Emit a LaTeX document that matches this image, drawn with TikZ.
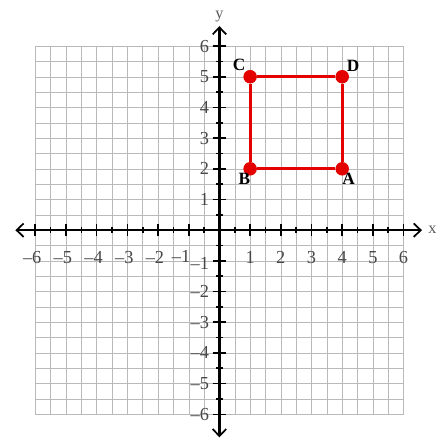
\documentclass[tikz,border=0pt]{standalone}
\usepackage{fontspec}
\setmainfont{Liberation Serif}
\usetikzlibrary{arrows.meta, positioning}
\tikzstyle{gridline} = [draw=black!27, line width=0.4pt]
\tikzstyle{axis} = [line width=2pt, {Straight Barb[length=2.3mm, width=4.4mm, line width=1.6pt]}-{Straight Barb[length=2.3mm, width=4.4mm, line width=1.6pt]}]
\tikzstyle{tick} = [line width=1.5pt]
\tikzstyle{num} = [text=black!72, font=\fontsize{17}{19}\selectfont, inner sep=1pt]
\tikzstyle{vertex} = [circle, fill=red!90!black, inner sep=0pt, minimum size=0.44cm]
\tikzstyle{side} = [draw=red!90!black, line width=3pt]
\tikzstyle{ptlabel} = [font=\fontsize{16}{18}\selectfont\bfseries, inner sep=1pt]

\begin{document}
\begin{tikzpicture}
    \useasboundingbox (-7.15,-6.85) rectangle (7.35,7.5);
    % grid
    \foreach \g in {-6,-5.5,...,6} {
        \draw [gridline] (\g,-6) -- (\g,6);
        \draw [gridline] (-6,\g) -- (6,\g);
    }
    % axes
    \coordinate (xleft) at (-6.65,0);
    \coordinate (xright) at (6.6,0);
    \coordinate (ybottom) at (0,-6.75);
    \coordinate (ytop) at (0,6.65);
    \draw [axis] (xleft) -- (xright);
    \draw [axis] (ybottom) -- (ytop);
    \node (xlabel) [right=0.08cm of xright, text=black!65, font=\fontsize{15}{17}\selectfont] {x};
    \node (ylabel) [above=0cm of ytop, text=black!65, font=\fontsize{15}{17}\selectfont] {y};
    % ticks
    \foreach \t in {-6,...,6} {
        \draw [tick] (\t,-0.2) -- (\t,0.2);
        \draw [tick] (-0.22,\t) -- (0.22,\t);
    }
    \foreach \t in {-5.5,-4.5,...,5.5} {
        \draw [tick] (\t,-0.1) -- (\t,0.1);
        \draw [tick] (-0.1,\t) -- (0.1,\t);
    }
    % numbers
    \foreach \n in {2,...,6} {
        \node (xm\n) [num] at (-\n-0.1,-0.88) {–\n};
        \node (ym\n) [num, anchor=east] at (-0.3,-\n) {–\n};
    }
    \foreach \n in {1,...,6} {
        \node (xp\n) [num] at (\n,-0.88) {\n};
        \node (yp\n) [num, anchor=east] at (-0.3,\n) {\n};
    }
    \node (xm1) [num] at (-1.25,-0.85) {–1};
    \node (ym1) [num, anchor=east] at (-0.3,-1.1) {–1};
    % square
    \node (A) [vertex] at (4,2) {};
    \node (B) [vertex] at (1,2) {};
    \node (C) [vertex] at (1,5) {};
    \node (D) [vertex] at (4,5) {};
    \draw [side] (A) -- (B) -- (C) -- (D) -- (A);
    \node (lA) [ptlabel, below right=-0.05cm and -0.2cm of A] {A};
    \node (lB) [ptlabel, below left=-0.05cm and -0.2cm of B] {B};
    \node (lC) [ptlabel, above left=-0.02cm and -0.05cm of C] {C};
    \node (lD) [ptlabel, above right=-0.02cm and -0.05cm of D] {D};
\end{tikzpicture}
\end{document}
